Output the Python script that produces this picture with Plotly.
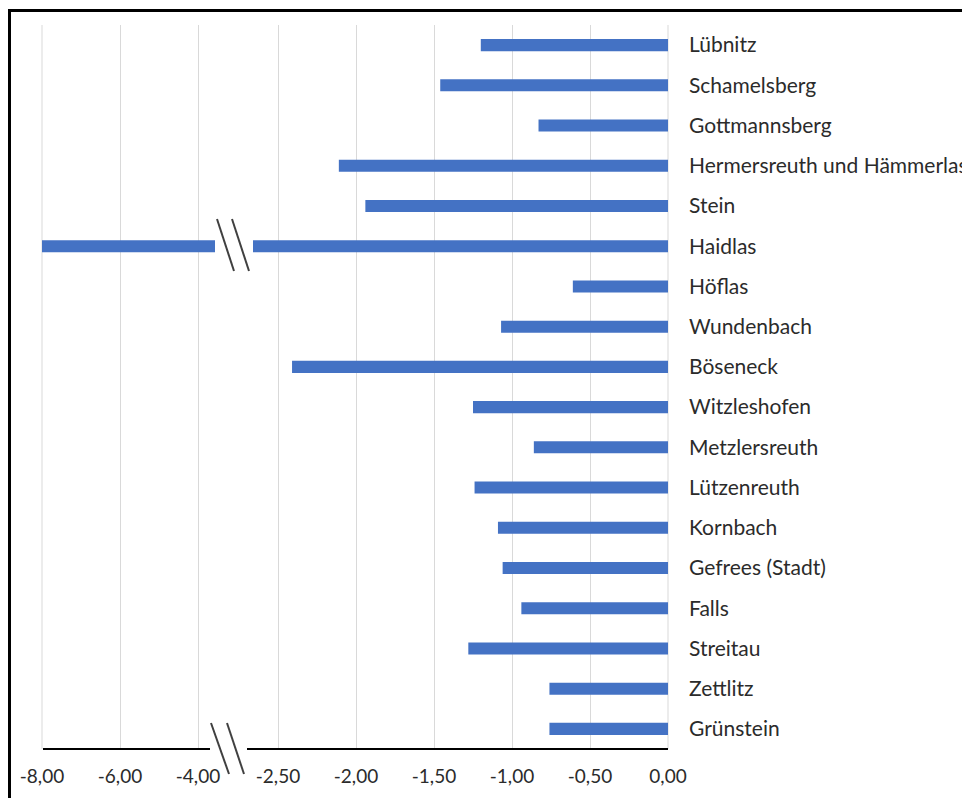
import plotly.graph_objects as go

# Villages (top to bottom) and their values
villages = [
    "Lübnitz", "Schamelsberg", "Gottmannsberg", "Hermersreuth und Hämmerlas",
    "Stein", "Haidlas", "Höflas", "Wundenbach", "Böseneck", "Witzleshofen",
    "Metzlersreuth", "Lützenreuth", "Kornbach", "Gefrees (Stadt)", "Falls",
    "Streitau", "Zettlitz", "Grünstein",
]
values = [
    -1.20, -1.46, -0.83, -2.11,
    -1.94, -8.00, -0.61, -1.07, -2.41, -1.25,
    -0.86, -1.24, -1.09, -1.06, -0.94,
    -1.28, -0.76, -0.76,
]

# Broken value axis: a compressed left part and a detailed right part
left_ticks = [-8, -6, -4]
right_ticks = [-2.5, -2.0, -1.5, -1.0, -0.5, 0.0]


def fmt(v):
    return f"{v:.2f}".replace(".", ",")


left_labels = [fmt(v) for v in left_ticks]
right_labels = [fmt(v) for v in right_ticks]

W, H = 962, 798
ML, MR, MT, MB = 42, 294, 25, 49
PW = W - ML - MR
PH = H - MT - MB


def px(x):
    return (x - ML) / PW


def py(y):
    return (H - MB - y) / PH


BAR = "#4472C4"
FONT = "Lato"
TXT = "#2b2b2b"
GRID = "#d9d9d9"

fig = go.Figure()
for xa in ("x", "x2"):
    fig.add_trace(go.Bar(
        x=values, y=villages, orientation="h",
        xaxis=xa, yaxis="y", width=0.3,
        marker=dict(color=BAR, line=dict(width=0)),
        showlegend=False, hoverinfo="x+y",
    ))

# left segment: 39 px per unit, right segment: 156 px per unit
left_dom = [0, px(215)]
right_dom = [px(253), 1]
left_range = [-8, -8 + (215 - 42) / 39.0]
right_range = [-(668 - 253) / 156.0, 0]

axis_common = dict(
    showgrid=True, gridcolor=GRID, gridwidth=1, zeroline=False,
    showline=False, ticks="", tickmode="array",
    tickfont=dict(family=FONT, size=19, color=TXT),
    ticklabelstandoff=14, fixedrange=True,
)

fig.update_layout(
    width=W, height=H,
    margin=dict(l=ML, r=MR, t=MT, b=MB, autoexpand=False),
    paper_bgcolor="white", plot_bgcolor="white",
    xaxis=dict(domain=left_dom, range=left_range, anchor="y",
               tickvals=left_ticks, ticktext=left_labels, **axis_common),
    xaxis2=dict(domain=right_dom, range=right_range, anchor="y",
                tickvals=right_ticks, ticktext=right_labels, **axis_common),
    yaxis=dict(anchor="x2", side="right", autorange="reversed",
               showgrid=False, zeroline=False, showline=False, ticks="",
               tickfont=dict(family=FONT, size=21, color=TXT),
               ticklabelstandoff=20, automargin=False),
    bargap=0.7,
)

shapes = []
# grid lines on the outer edges of the value axis
for gx in (42, 668):
    shapes.append(dict(type="line", xref="paper", yref="paper", layer="below",
                       x0=px(gx), x1=px(gx), y0=0, y1=1,
                       line=dict(color=GRID, width=1)))
# outer frame
shapes.append(dict(type="rect", xref="paper", yref="paper",
                   x0=px(9.5), x1=px(1000), y0=py(10.5), y1=py(900),
                   line=dict(color="black", width=3), fillcolor="rgba(0,0,0,0)"))
# category axis line in two pieces
for a, b in ((43, 210), (247, 668)):
    shapes.append(dict(type="line", xref="paper", yref="paper",
                       x0=px(a), x1=px(b), y0=py(749), y1=py(749),
                       line=dict(color="black", width=2)))
# break marks on the long bar and on the axis
for (x0, y0, x1, y1) in [
    (217, 219, 234, 271), (232, 219, 249, 271),
    (211, 723, 229, 774), (227, 723, 244, 774),
]:
    shapes.append(dict(type="line", xref="paper", yref="paper",
                       x0=px(x0), x1=px(x1), y0=py(y0), y1=py(y1),
                       line=dict(color="#404040", width=2)))
fig.update_layout(shapes=shapes)

fig.write_html("out.html")
